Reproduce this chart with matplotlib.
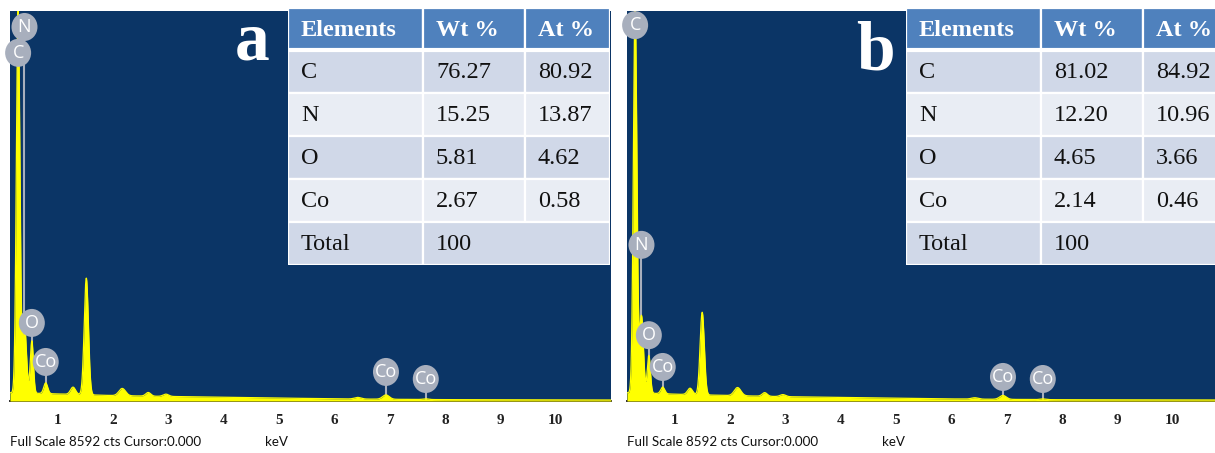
import numpy as np
import matplotlib
matplotlib.use("Agg")
import matplotlib.pyplot as plt
from matplotlib.patches import Ellipse, Rectangle
from matplotlib.transforms import ScaledTranslation

FULL_SCALE = 8592  # cts
W, H = 1215, 453

# ---- spectrum a: line energies (keV), peak counts, peak widths (keV)
peak_energy_a = [0.277, 0.392, 0.525, 0.776, 1.27, 1.51, 2.16, 2.63, 2.95, 6.42, 6.93, 7.65]
peak_counts_a = [8450, 1500, 1150, 235, 160, 2570, 160, 80, 50, 35, 95, 15]
peak_width_a = [0.032, 0.035, 0.028, 0.035, 0.045, 0.038, 0.06, 0.045, 0.05, 0.06, 0.06, 0.05]

# ---- spectrum b
peak_energy_b = [0.277, 0.392, 0.525, 0.776, 1.27, 1.49, 2.13, 2.62, 2.95, 6.42, 6.93, 7.65]
peak_counts_b = [8450, 1700, 830, 145, 140, 1820, 180, 80, 45, 30, 85, 15]
peak_width_b = [0.032, 0.035, 0.028, 0.035, 0.045, 0.038, 0.06, 0.045, 0.05, 0.06, 0.06, 0.05]

# ---- continuum (bremsstrahlung) counts
bg_energy = [0.13, 0.6, 1.0, 2.0, 3.0, 4.0, 5.0, 6.0, 7.0, 8.0, 11.0]
bg_counts_a = [180, 170, 155, 120, 100, 85, 65, 48, 38, 30, 22]
bg_counts_b = [180, 170, 150, 120, 95, 80, 62, 46, 36, 28, 22]

# ---- element markers
marker_names_a = ["N", "C", "O", "Co", "Co", "Co"]
marker_energy_a = [0.392, 0.277, 0.525, 0.776, 6.93, 7.65]
marker_height_a = [8240, 7670, 1720, 860, 640, 485]

marker_names_b = ["C", "N", "O", "Co", "Co", "Co"]
marker_energy_b = [0.277, 0.392, 0.525, 0.776, 6.93, 7.65]
marker_height_b = [8280, 3440, 1450, 750, 530, 485]

# ---- composition tables
table_header = ["Elements", "Wt %", "At %"]
table_elements = ["C", "N", "O", "Co", "Total"]
wt_a = ["76.27", "15.25", "5.81", "2.67", "100"]
at_a = ["80.92", "13.87", "4.62", "0.58", ""]
wt_b = ["81.02", "12.20", "4.65", "2.14", "100"]
at_b = ["84.92", "10.96", "3.66", "0.46", ""]

tick_values = list(range(1, 11))

NAVY = "#0B3566"
YELLOW = "#FFFF00"
MARK = "#A8AFBD"
HEAD = "#4F81BD"
ROW_DARK = "#D0D8E8"
ROW_LIGHT = "#E9EDF4"

fig = plt.figure(figsize=(W / 100, H / 100), dpi=100)


def px_axes(x0, y0, x1, y1):
    return fig.add_axes([x0 / W, 1 - y1 / H, (x1 - x0) / W, (y1 - y0) / H])


def spectrum(ax, pe, pc, pw, bgc):
    e = np.linspace(0.13, 11.0, 4000)
    c = np.interp(e, bg_energy, bgc)
    for e0, a, s in zip(pe, pc, pw):
        c = c + a * np.exp(-0.5 * ((e - e0) / s) ** 2)
    ax.fill_between(e, 0, c, color=YELLOW, lw=0, zorder=3)
    ax.plot(e, c, color=YELLOW, lw=0.9, zorder=3)


def markers(ax, names, energies, heights):
    for name, x, y in zip(names, energies, heights):
        ax.plot([x, x], [0, y], color=MARK, lw=1.5, zorder=2, solid_capstyle="butt")
        tr = fig.dpi_scale_trans + ScaledTranslation(x, y, ax.transData)
        ax.add_patch(Ellipse((0, 0), 0.26, 0.28, transform=tr,
                             facecolor=MARK, edgecolor="none", zorder=5, clip_on=False))
        ax.text(x, y, name, ha="center", va="center", color="white",
                fontsize=13, family="Open Sans", zorder=6)


def panel(x0, letter, letter_xy, pe, pc, pw, bgc, names, menergy, mheight):
    ax = px_axes(x0, 11, x0 + 601, 401)
    ax.set_facecolor(NAVY)
    ax.set_xlim(0.13, 11.0)
    ax.set_ylim(0, FULL_SCALE)
    for side in ("top", "left", "right"):
        ax.spines[side].set_visible(False)
    ax.spines["bottom"].set_color("#2b2b2b")
    ax.spines["bottom"].set_linewidth(1.4)
    ax.set_yticks([])
    ax.set_xticks(tick_values)
    ax.set_xticklabels([str(t) for t in tick_values], family="Liberation Serif",
                       fontweight="bold", fontsize=11, color="#222222")
    ax.tick_params(axis="x", length=0, pad=9)
    spectrum(ax, pe, pc, pw, bgc)
    markers(ax, names, menergy, mheight)
    fig.text((x0 + 0) / W, 1 - 442 / H, "Full Scale 8592 cts Cursor:0.000",
             family="Lato", fontsize=9.6, color="#111111", va="center", ha="left")
    fig.text((x0 + 255) / W, 1 - 442 / H, "keV", family="Lato",
             fontsize=9.6, color="#111111", va="center", ha="left")
    fig.text(letter_xy[0] / W, 1 - letter_xy[1] / H, letter, family="Liberation Serif",
             fontweight="bold", fontsize=50, color="white", ha="center",
             va="baseline")
    return ax


def table(x0, wt, at):
    tx = px_axes(x0, 8, x0 + 322, 265)
    tx.set_xlim(0, 322)
    tx.set_ylim(257, 0)
    tx.axis("off")
    cols = [0, 135, 237, 322]
    rows = [0, 42, 85, 128, 171, 214, 257]
    # header
    for j in range(3):
        tx.add_patch(Rectangle((cols[j], rows[0]), cols[j + 1] - cols[j], rows[1] - rows[0],
                               facecolor=HEAD, edgecolor="white", lw=1.6))
        tx.text(cols[j] + 13, (rows[0] + rows[1]) / 2 + 1, table_header[j], color="white",
                family="Liberation Serif", fontweight="bold", fontsize=17.5,
                ha="left", va="center")
    for i, name in enumerate(table_elements):
        fc = ROW_DARK if i % 2 == 0 else ROW_LIGHT
        y0, y1 = rows[i + 1], rows[i + 2]
        cells = [(cols[0], cols[1], name), (cols[1], cols[2], wt[i]), (cols[2], cols[3], at[i])]
        if name == "Total":
            cells = [(cols[0], cols[1], name), (cols[1], cols[3], wt[i])]
        for c0, c1, txt in cells:
            tx.add_patch(Rectangle((c0, y0), c1 - c0, y1 - y0, facecolor=fc,
                                   edgecolor="white", lw=1.6))
            tx.text(c0 + 13, (y0 + y1) / 2 + 1, txt, color="#111111",
                    family="Liberation Serif", fontsize=17.5, ha="left", va="center")
    tx.plot([0, 322], [rows[1], rows[1]], color="white", lw=3)


panel(10, "a", (252, 60), peak_energy_a, peak_counts_a, peak_width_a, bg_counts_a,
      marker_names_a, marker_energy_a, marker_height_a)
table(288, wt_a, at_a)

panel(627, "b", (875, 70), peak_energy_b, peak_counts_b, peak_width_b, bg_counts_b,
      marker_names_b, marker_energy_b, marker_height_b)
table(906, wt_b, at_b)

fig.savefig("out.png", dpi=100, facecolor="white")
